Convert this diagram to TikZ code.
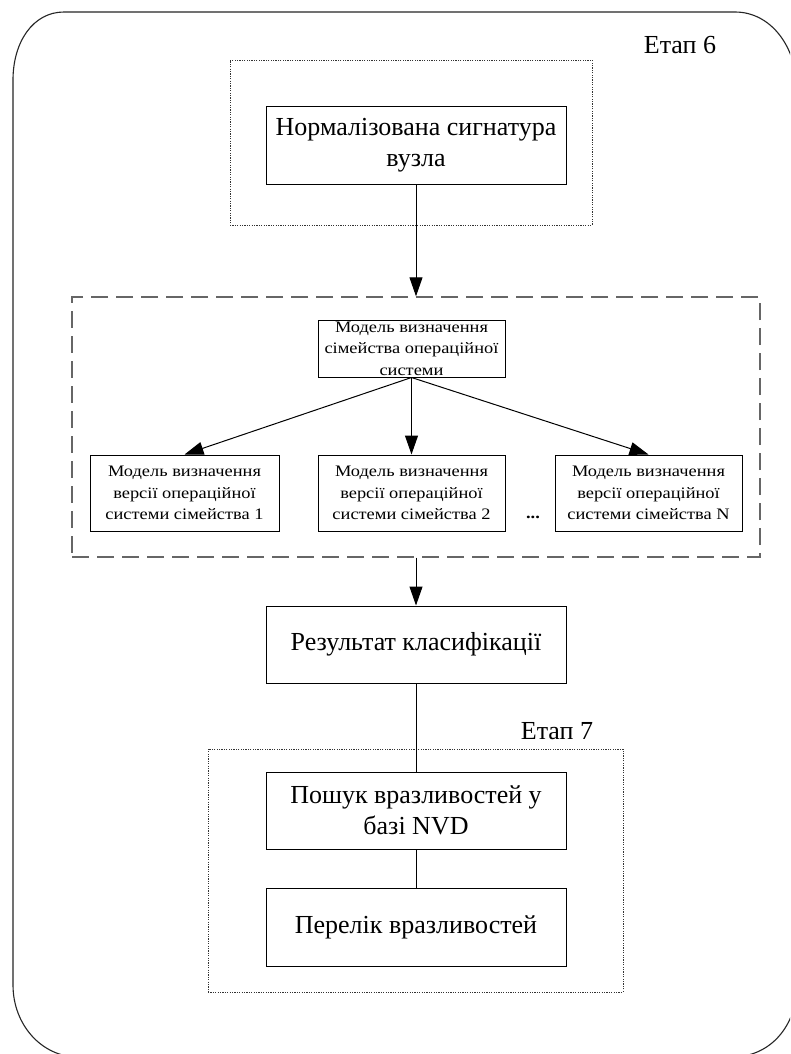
\documentclass[tikz,border=0pt]{standalone}
\usepackage{fontspec}
\setmainfont{Liberation Serif}
\newfontfamily\modelfont[FakeStretch=1.15]{Liberation Serif}
\usetikzlibrary{arrows.meta}
\tikzset{
  bigbox/.style={draw=black, line width=1pt, minimum width=300, minimum height=77, inner sep=0pt,
    align=center, font=\fontsize{26}{31}\selectfont},
  modelbox/.style={draw=black, line width=1pt, minimum width=187, minimum height=76, inner sep=0pt,
    align=center, font=\modelfont\fontsize{16}{21.5}\selectfont},
  dotframe/.style={draw=black!80, line width=0.9pt, dash pattern=on 1.2pt off 1.2pt},
  dashframe/.style={draw=black!60, line width=1.4pt, dash pattern=on 17pt off 8pt},
  arr/.style={-{Triangle[length=19pt,width=13pt]}, line width=1pt},
  conn/.style={line width=1pt},
  stagelabel/.style={font=\fontsize{26}{31}\selectfont, inner sep=0pt}
}
\begin{document}
\begin{tikzpicture}[x=1pt,y=-1pt]
\useasboundingbox (0,0) rectangle (790,1054);
\clip (0,0) rectangle (790,1054);
\fill[white] (0,0) rectangle (790,1054);
% outer rounded frame
\draw[line width=1.1pt, black!85]
  (13,80) .. controls (13,42) and (33,12) .. (64,12)
  -- (735,12) .. controls (771,12) and (797,47) .. (797,90)
  -- (797,985) .. controls (797,1025) and (771,1057) .. (732,1057)
  -- (78,1057) .. controls (42,1057) and (13,1025) .. (13,985)
  -- cycle;
\node[stagelabel] (st6) at (680,45) {Етап 6};
% stage 6 top group
\node[dotframe, minimum width=362, minimum height=165, inner sep=0pt] (g1) at (411,142.5) {};
\node[bigbox] (norm) at (416,145.5) {Нормалізована сигнатура\\вузла};
% dashed group of models
\node[dashframe, minimum width=688, minimum height=260, inner sep=0pt] (grp) at (416,427) {};
\node[modelbox, minimum height=57] (fam) at (411.5,348.5) {Модель визначення\\сімейства операційної\\системи};
\node[modelbox, minimum width=189] (m1) at (184.5,493) {Модель визначення\\версії операційної\\системи сімейства 1};
\node[modelbox] (m2) at (411.5,493) {Модель визначення\\версії операційної\\системи сімейства 2};
\node[modelbox] (m3) at (648.5,493) {Модель визначення\\версії операційної\\системи сімейства N};
\node[font=\modelfont\bfseries\fontsize{16}{20}\selectfont, inner sep=0pt] (dots) at (533,517) {...};
\draw[arr] (norm.south) -- (norm.south |- grp.north);
\draw[arr] (fam.south) -- (m1.north);
\draw[arr] (fam.south) -- (m2.north);
\draw[arr] (fam.south) -- (m3.north);
% result
\node[bigbox] (res) at (416,644.5) {Результат класифікації};
\draw[arr] (grp.south -| res.north) -- (res.north);
% stage 7
\node[stagelabel] (st7) at (557,731) {Етап 7};
\node[dotframe, minimum width=415, minimum height=243, inner sep=0pt] (g2) at (415.5,870.5) {};
\node[bigbox] (search) at (416,810.5) {Пошук вразливостей у\\базі NVD};
\node[bigbox, minimum height=78] (list) at (416,927) {Перелік вразливостей};
\draw[conn] (res.south) -- (search.north);
\draw[conn] (search.south) -- (list.north);
\end{tikzpicture}
\end{document}
